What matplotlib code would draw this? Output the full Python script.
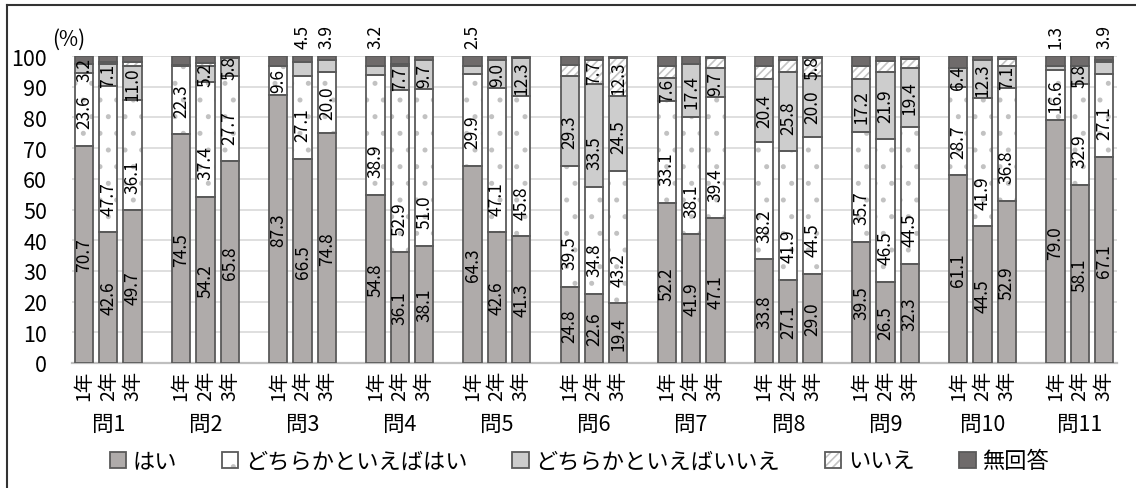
import matplotlib.pyplot as plt
from matplotlib.patches import Patch
from matplotlib.lines import Line2D

plt.rcParams['font.family'] = ['Noto Sans CJK JP', 'DejaVu Sans']
plt.rcParams['hatch.linewidth'] = 1.2

questions = ["問1", "問2", "問3", "問4", "問5", "問6", "問7", "問8", "問9", "問10", "問11"]
grades = ["1年", "2年", "3年"]
answers = ["はい", "どちらかといえばはい", "どちらかといえばいいえ", "いいえ", "無回答"]

# values per bar (問1-1年, 問1-2年, 問1-3年, 問2-1年, ...)
hai = [70.7, 42.6, 49.7, 74.5, 54.2, 65.8, 87.3, 66.5, 74.8, 54.8, 36.1, 38.1,
       64.3, 42.6, 41.3, 24.8, 22.6, 19.4, 52.2, 41.9, 47.1, 33.8, 27.1, 29.0,
       39.5, 26.5, 32.3, 61.1, 44.5, 52.9, 79.0, 58.1, 67.1]
dochira_hai = [23.6, 47.7, 36.1, 22.3, 37.4, 27.7, 9.6, 27.1, 20.0, 38.9, 52.9, 51.0,
               29.9, 47.1, 45.8, 39.5, 34.8, 43.2, 33.1, 38.1, 39.4, 38.2, 41.9, 44.5,
               35.7, 46.5, 44.5, 28.7, 41.9, 36.8, 16.6, 32.9, 27.1]
dochira_iie = [3.2, 7.1, 11.0, 0.4, 5.2, 5.8, 0.0, 4.5, 3.9, 3.2, 7.7, 9.7,
               2.5, 9.0, 12.3, 29.3, 33.5, 24.5, 7.6, 17.4, 9.7, 20.4, 25.8, 20.0,
               17.2, 21.9, 19.4, 6.4, 12.3, 7.1, 1.3, 5.8, 3.9]
iie = [0.0, 0.6, 1.1, 0.0, 0.8, 0.0, 0.0, 0.0, 0.0, 0.0, 0.8, 0.0,
       0.0, 0.0, 0.0, 3.5, 7.7, 12.3, 3.8, 0.0, 3.0, 4.5, 3.8, 5.8,
       4.5, 3.6, 2.8, 0.0, 0.0, 2.2, 0.0, 0.0, 0.5]
mukaito = [2.5, 2.0, 2.1, 2.8, 2.4, 0.7, 3.1, 1.9, 1.3, 3.1, 2.5, 1.2,
           3.3, 1.3, 0.6, 2.9, 1.4, 0.6, 3.3, 2.6, 0.8, 3.1, 1.4, 0.7,
           3.1, 1.5, 1.0, 3.8, 1.3, 1.0, 3.1, 3.2, 1.4]

# which bars get a value label for the small segments
iie_labeled = [16, 17, 23]
dochira_iie_hidden = [3, 6]
above_bar = [7, 8, 9, 12, 30, 32]

series = [hai, dochira_hai, dochira_iie, iie, mukaito]
fills = ["#afabaa", "white", "#cdcdcd", "white", "#6f6b6b"]
hatches = [None, ".", None, "////", None]
hatch_colors = ["#afabaa", "#c2c2c2", "#cdcdcd", "#c4c4c4", "#6f6b6b"]
outline = "#5a5a5a"

x = [g * 4 + i for g in range(len(questions)) for i in range(len(grades))]

fig = plt.figure(figsize=(11.36, 4.89), dpi=100)
ax = fig.add_axes([72 / 1136, 1 - 364 / 489, (1117 - 72) / 1136, (364 - 57) / 489])

bottoms = [0.0] * len(x)
handles = []
for k, vals in enumerate(series):
    ax.bar(x, vals, 0.75, bottom=bottoms, color=fills[k], hatch=hatches[k],
           edgecolor=hatch_colors[k], linewidth=0, zorder=2)
    ax.bar(x, vals, 0.75, bottom=bottoms, fill=False, edgecolor=outline,
           linewidth=1.3, zorder=3)
    for j, v in enumerate(vals):
        b = bottoms[j]
        txt = f"{v:.1f}"
        show = True
        if k == 2 and j in dochira_iie_hidden:
            show = False
        if k == 3 and j not in iie_labeled:
            show = False
        if k == 4:
            show = False
        if not show:
            continue
        if k == 2 and j in above_bar:
            ax.text(x[j], 102.5, txt, rotation=90, ha="center", va="bottom",
                    fontsize=12.5, clip_on=False, zorder=4)
            continue
        if k == 0:
            yc = v / 2
        else:
            L = 3.1 * len(txt)
            yc = b + min(5 + L / 2, v / 2)
        ax.text(x[j], yc, txt, rotation=90, ha="center", va="center",
                fontsize=12.5, zorder=4)
    bottoms = [b + v for b, v in zip(bottoms, vals)]
    h1 = Patch(facecolor=fills[k], hatch=hatches[k], edgecolor=hatch_colors[k], linewidth=0)
    h2 = Patch(fill=False, edgecolor=outline, linewidth=1.3)
    handles.append((h1, h2))

ax.set_ylim(0, 100)
ax.set_xlim(-0.494, 42.535)
ax.set_yticks(range(0, 101, 10))
ax.yaxis.grid(True, color="#d9d9d9", linewidth=1.2, zorder=0)
ax.set_axisbelow(True)
ax.tick_params(axis="y", length=0, pad=18, labelsize=15.5)
ax.set_xticks(x)
ax.set_xticklabels(grades * len(questions), rotation=90, fontsize=14)
ax.tick_params(axis="x", length=0, pad=5)
for s in ["left", "right", "top"]:
    ax.spines[s].set_visible(False)
ax.spines["bottom"].set_color("#bfbfbf")
ax.spines["bottom"].set_linewidth(1.6)

for g, q in enumerate(questions):
    ax.text(g * 4 + 1, -0.2, q, transform=ax.get_xaxis_transform(),
            ha="center", va="center", fontsize=15.5)

fig.text(69 / 1136, 1 - 40 / 489, "(%)", ha="center", va="center", fontsize=15)

fig.legend(handles, answers, loc="center", bbox_to_anchor=(0.51, 1 - 462 / 489),
           ncol=5, frameon=False, fontsize=16, handlelength=0.75, handleheight=0.75,
           handletextpad=0.3, columnspacing=2.0)

# frame lines along the top and left edge
fig.add_artist(Line2D([7 / 1136, 1.0], [1 - 6 / 489, 1 - 6 / 489], color="#333333", linewidth=1.5))
fig.add_artist(Line2D([7 / 1136, 7 / 1136], [0.0, 1 - 6 / 489], color="#333333", linewidth=1.5))

fig.savefig("out.png", dpi=100)
